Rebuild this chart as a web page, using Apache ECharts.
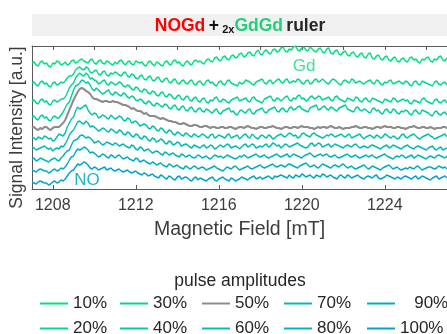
<!DOCTYPE html>
<html>
<head>
<meta charset="utf-8">
<script src="https://cdn.jsdelivr.net/npm/echarts@6/dist/echarts.min.js"></script>
<style>
  html, body { margin: 0; padding: 0; background: #ffffff; }
  #chart { width: 447px; height: 334px; }
</style>
</head>
<body>
<div id="chart"></div>
<script>
// Magnetic field sampling points [mT]
const field = [
  1207.0,1207.1,1207.2,1207.3,1207.4,1207.5,1207.6,1207.7,1207.8,1207.9,
  1208.0,1208.1,1208.2,1208.3,1208.4,1208.5,1208.6,1208.7,1208.8,1208.9,
  1209.0,1209.1,1209.2,1209.3,1209.4,1209.5,1209.6,1209.7,1209.8,1209.9,
  1210.0,1210.1,1210.2,1210.3,1210.4,1210.5,1210.6,1210.7,1210.8,1210.9,
  1211.0,1211.1,1211.2,1211.3,1211.4,1211.5,1211.6,1211.7,1211.8,1211.9,
  1212.0,1212.1,1212.2,1212.3,1212.4,1212.5,1212.6,1212.7,1212.8,1212.9,
  1213.0,1213.1,1213.2,1213.3,1213.4,1213.5,1213.6,1213.7,1213.8,1213.9,
  1214.0,1214.1,1214.2,1214.3,1214.4,1214.5,1214.6,1214.7,1214.8,1214.9,
  1215.0,1215.1,1215.2,1215.3,1215.4,1215.5,1215.6,1215.7,1215.8,1215.9,
  1216.0,1216.1,1216.2,1216.3,1216.4,1216.5,1216.6,1216.7,1216.8,1216.9,
  1217.0,1217.1,1217.2,1217.3,1217.4,1217.5,1217.6,1217.7,1217.8,1217.9,
  1218.0,1218.1,1218.2,1218.3,1218.4,1218.5,1218.6,1218.7,1218.8,1218.9,
  1219.0,1219.1,1219.2,1219.3,1219.4,1219.5,1219.6,1219.7,1219.8,1219.9,
  1220.0,1220.1,1220.2,1220.3,1220.4,1220.5,1220.6,1220.7,1220.8,1220.9,
  1221.0,1221.1,1221.2,1221.3,1221.4,1221.5,1221.6,1221.7,1221.8,1221.9,
  1222.0,1222.1,1222.2,1222.3,1222.4,1222.5,1222.6,1222.7,1222.8,1222.9,
  1223.0,1223.1,1223.2,1223.3,1223.4,1223.5,1223.6,1223.7,1223.8,1223.9,
  1224.0,1224.1,1224.2,1224.3,1224.4,1224.5,1224.6,1224.7,1224.8,1224.9,
  1225.0,1225.1,1225.2,1225.3,1225.4,1225.5,1225.6,1225.7,1225.8,1225.9,
  1226.0,1226.1,1226.2,1226.3,1226.4,1226.5,1226.6,1226.7,1226.8,1226.9,
  1227.0
];

// Echo-detected spectra, vertically offset, one per pulse amplitude
const amp10 = [
  126,127,124,123,127,128,125,126,123,122,126,125,128,127,124,125,127,124,125,128,
  129,126,127,129,130,128,127,126,129,130,126,125,128,129,126,125,128,127,125,124,
  127,125,128,129,126,124,127,128,125,124,128,127,126,127,124,123,127,128,125,123,
  127,126,124,123,127,128,125,124,128,129,126,127,124,123,127,128,125,124,128,129,
  127,128,126,125,129,130,128,127,131,132,129,128,132,133,130,129,133,134,131,132,
  135,136,132,133,136,137,134,133,137,139,135,134,138,139,136,135,139,140,137,138,
  141,142,138,137,140,139,142,143,139,138,141,142,139,138,142,140,138,137,140,141,
  137,136,140,141,136,135,138,139,135,134,137,138,134,133,136,137,133,132,135,136,
  132,131,135,136,131,130,133,134,130,129,132,133,129,128,131,132,128,127,130,131,
  128,127,131,132,129,130,127,126,130,129,131,132,128,127,130,129,132,133,129,128,
  131
];
const amp20 = [
  106,107,104,103,107,108,105,106,103,102,106,107,104,105,107,106,108,111,113,113,
  115,119,121,122,120,119,122,121,117,116,118,119,115,114,117,118,114,113,116,115,
  117,116,114,113,116,117,113,112,115,114,111,110,113,114,110,109,112,113,109,108,
  111,112,108,107,110,111,107,106,109,110,106,105,108,109,106,105,108,109,105,104,
  107,108,105,104,108,109,106,107,104,103,107,108,105,104,108,109,106,105,104,103,
  107,105,106,109,108,107,105,104,107,108,109,110,106,105,108,109,105,107,109,110,
  107,106,109,110,106,107,108,107,110,109,106,105,108,109,105,106,109,110,107,108,
  110,108,106,105,108,110,109,107,105,104,108,109,107,106,110,109,106,107,108,106,
  105,107,108,109,106,105,109,108,105,104,107,106,108,109,105,106,107,108,106,105,
  108,107,104,103,107,108,105,104,108,107,106,105,104,103,107,108,105,104,106,107,
  104
];
const amp30 = [
  88,89,86,85,89,90,87,88,85,84,88,89,87,88,90,90,92,96,101,104,
  106,111,114,116,114,113,116,114,110,111,109,108,105,106,108,109,105,104,107,106,
  104,105,107,106,103,102,104,103,100,99,102,101,98,97,100,99,96,95,98,97,
  94,93,96,97,93,92,95,94,91,90,93,94,90,89,92,93,89,88,91,92,
  88,87,90,91,87,86,89,88,91,92,88,87,90,89,87,86,89,90,91,92,
  88,89,90,91,88,87,91,92,89,88,87,86,90,91,92,93,89,88,91,90,
  88,90,92,93,89,88,91,90,93,94,90,91,88,89,92,93,90,91,93,92,
  89,90,91,92,89,88,92,93,90,89,88,87,91,90,89,88,92,91,88,87,
  90,91,88,87,91,90,89,88,87,86,90,89,88,87,91,90,87,88,89,90,
  88,89,86,85,89,88,87,86,90,91,88,87,86,85,89,90,87,86,88,89,
  86
];
const amp40 = [
  72,73,70,69,73,74,71,72,69,68,72,73,71,71,74,77,81,85,87,93,
  99,103,104,106,109,108,106,107,104,100,98,101,99,97,95,96,98,99,95,94,
  97,96,94,93,96,95,92,91,93,92,89,88,90,89,86,85,88,87,84,83,
  86,85,83,82,85,84,81,80,83,84,80,79,82,83,79,78,81,82,78,77,
  80,81,78,77,80,79,77,76,79,80,76,75,78,79,80,81,77,78,75,74,
  78,79,77,76,79,80,76,75,78,79,80,81,77,76,79,80,81,82,78,77,
  80,81,78,77,81,82,79,80,82,83,80,79,78,77,81,82,83,84,79,80,
  82,83,80,79,82,81,79,78,81,82,83,84,80,79,78,77,81,82,79,78,
  80,79,77,76,80,81,78,79,76,75,79,80,77,76,80,79,76,75,78,77,
  79,78,75,74,78,79,76,75,79,78,77,76,74,73,77,78,75,74,76,77,
  74
];
const amp50 = [
  61,62,60,59,61,60,62,62,60,59,61,62,62,62,64,66,69,74,79,84,
  89,93,97,100,101,100,98,97,95,92,90,90,89,88,87,88,88,87,87,88,
  87,87,86,85,84,84,83,82,80,81,79,78,78,77,75,76,74,73,73,73,
  72,71,70,71,70,69,68,68,67,67,66,65,65,66,65,64,63,63,64,64,
  63,62,62,63,63,62,61,62,62,61,61,62,62,61,61,62,62,61,60,61,
  62,62,61,62,63,62,61,61,60,61,62,62,61,61,62,62,63,62,61,61,
  60,61,62,62,61,61,62,62,61,62,63,62,62,62,61,61,60,61,62,61,
  62,62,61,62,63,62,61,61,62,61,60,61,61,61,62,62,63,62,61,61,
  62,62,61,61,60,61,62,62,61,62,63,62,62,62,61,61,62,62,61,61,
  60,61,62,62,63,62,61,61,62,62,61,61,62,61,60,61,61,61,62,62,
  61
];
const amp60 = [
  52,51,49,52,51,50,53,52,50,51,48,49,52,55,54,53,56,62,66,70,
  72,78,82,80,81,83,84,79,76,74,76,75,71,72,74,73,71,70,74,72,
  70,71,73,72,69,68,71,70,66,67,68,66,63,64,65,64,61,60,63,62,
  59,58,61,60,57,56,59,58,55,54,57,56,54,53,56,55,53,52,55,54,
  52,53,55,54,52,51,54,55,51,52,54,53,52,51,54,55,51,52,53,54,
  50,52,54,55,52,51,55,53,51,50,53,54,52,51,54,53,50,51,53,54,
  55,53,52,54,56,55,53,54,51,52,55,56,54,53,52,55,56,54,53,52,
  51,52,54,53,55,54,52,53,54,55,53,52,54,55,51,52,53,54,55,52,
  50,52,53,54,52,51,54,53,51,52,55,54,52,51,53,52,50,51,54,55,
  52,51,53,54,55,53,51,50,52,53,54,55,53,52,50,51,52,53,54,55,
  52
];
const amp70 = [
  42,41,39,40,41,42,43,41,40,41,38,40,41,40,43,42,45,49,54,57,
  59,63,67,68,66,65,68,66,62,63,62,60,58,59,61,60,58,57,60,59,
  57,56,59,58,55,54,57,56,53,52,55,54,51,50,53,52,49,48,51,50,
  47,48,50,49,46,45,48,47,44,45,47,46,43,44,45,44,42,41,44,43,
  42,41,43,44,41,42,44,43,40,41,43,44,42,43,45,44,41,42,43,42,
  40,42,44,45,42,43,45,44,41,42,43,42,44,45,42,43,46,45,43,44,
  41,43,45,44,42,43,44,45,46,44,43,42,41,42,45,46,43,44,46,45,
  42,43,44,45,42,43,45,44,43,42,41,43,44,43,42,44,45,43,41,42,
  43,42,41,43,44,43,42,41,40,42,43,44,41,42,44,43,42,41,40,42,
  43,44,42,41,40,42,43,42,41,40,39,41,42,43,40,39,41,42,39,40,
  41
];
const amp80 = [
  30,31,28,29,31,30,29,28,27,29,30,31,29,28,31,33,36,38,39,44,
  48,49,50,53,54,53,51,52,51,49,46,47,48,46,44,45,47,46,45,44,
  46,45,43,44,45,43,42,41,44,43,40,39,42,41,38,39,40,38,36,37,
  38,37,35,34,37,36,34,35,36,34,33,32,35,34,32,33,34,32,31,32,
  34,33,31,32,33,31,30,32,34,33,32,33,31,32,34,33,32,31,30,31,
  33,32,34,33,31,32,33,34,35,33,32,33,34,32,31,32,33,34,35,33,
  32,33,34,35,32,33,35,34,33,32,31,33,34,35,36,34,32,33,34,35,
  33,34,35,33,32,33,34,32,31,32,33,34,35,33,32,33,34,32,31,32,
  33,34,32,33,34,32,31,32,33,34,35,33,32,31,30,32,33,32,34,33,
  31,32,33,34,31,32,34,33,32,31,30,32,33,32,31,33,34,33,32,31,
  33
];
const amp90 = [
  19,18,17,19,20,19,18,18,16,17,19,20,18,19,21,20,22,25,29,32,
  33,37,40,39,40,42,41,39,36,37,36,34,32,33,35,34,32,31,34,33,
  31,33,34,32,30,31,32,30,29,28,31,30,27,28,29,27,26,25,27,26,
  24,25,26,24,23,22,25,24,22,23,24,22,21,20,23,22,20,21,23,22,
  20,21,22,21,19,20,21,22,23,21,20,19,18,20,22,21,20,22,23,21,
  19,20,21,22,23,21,20,21,22,23,24,22,21,22,23,24,25,23,22,23,
  24,23,22,24,25,24,23,22,21,23,24,25,26,24,22,23,24,22,21,23,
  25,24,23,22,21,23,24,23,22,24,25,23,21,22,23,21,20,21,22,23,
  24,22,20,21,23,22,21,20,19,21,22,23,24,22,20,21,22,20,19,20,
  21,20,22,21,20,22,23,21,19,20,21,22,22,21,20,21,23,22,21,22,
  20
];
const amp100 = [
  7,6,5,7,8,7,6,6,4,5,7,8,6,7,9,8,10,13,16,18,
  19,22,25,24,25,27,26,24,21,20,22,21,19,20,21,22,19,20,21,19,
  18,19,20,18,17,18,19,17,16,17,18,16,15,14,16,15,13,14,15,13,
  12,11,14,13,11,10,13,12,10,9,12,13,10,11,12,11,9,8,11,12,
  9,11,10,9,8,10,11,12,9,8,10,11,12,10,9,8,11,10,8,9,
  10,12,11,10,9,11,12,13,10,11,12,10,11,12,13,11,10,13,12,13,
  14,13,12,11,14,12,11,14,13,12,15,14,12,13,14,12,11,14,13,12,
  15,14,12,13,14,12,11,10,13,14,12,11,14,13,11,12,13,14,12,11,
  10,12,13,12,11,13,14,11,10,11,12,14,13,12,11,10,12,11,10,12,
  13,12,11,10,12,13,10,11,13,12,11,10,9,11,12,13,10,11,12,13,
  11
];

const seriesNames = ['10%','20%','30%','40%','50%','60%','70%','80%','90%','100%'];
const seriesValues = [amp10, amp20, amp30, amp40, amp50, amp60, amp70, amp80, amp90, amp100];
const seriesColors = ['#00e17f','#00db88','#00d592','#00ce9c','#8c8c8c',
                      '#00c3ab','#00bcb4','#00b5bc','#00adc3','#00a5c9'];

const bottomTicks = [1208, 1212, 1216, 1220, 1224];
const topTicks = [1208, 1210, 1212, 1214, 1216, 1218, 1220, 1222, 1224, 1226];

// legend grid: 5 columns x 2 rows, filled column by column
const legendLeft = [40, 40, 120, 120, 202, 202, 284, 284, 367, 367];
const legendTop = [295, 320, 295, 320, 295, 320, 295, 320, 295, 320];

const FONT = 'Liberation Sans, Arial, Helvetica, sans-serif';
const AXIS_COLOR = '#5a5a5a';
const TEXT_COLOR = '#3c3c3c';

const chart = echarts.init(document.getElementById('chart'), null, { renderer: 'canvas' });

const series = seriesNames.map((name, k) => ({
  name: name,
  type: 'line',
  xAxisIndex: 0,
  yAxisIndex: 0,
  data: field.map((f, i) => [f, seriesValues[k][i]]),
  showSymbol: false,
  symbol: 'none',
  clip: true,
  z: name === '50%' ? 3 : 2,
  lineStyle: { color: seriesColors[k], width: name === '50%' ? 2 : 1.4 },
  itemStyle: { color: seriesColors[k] },
  emphasis: { disabled: true }
}));

const legends = seriesNames.map((name, k) => ({
  data: [name],
  orient: 'horizontal',
  left: legendLeft[k],
  top: legendTop[k],
  padding: 0,
  itemWidth: 28,
  itemHeight: 2,
  icon: 'rect',
  selectedMode: false,
  formatter: n => (n === '90%' ? '\u2007 90%' : n),
  textStyle: { fontSize: 17, lineHeight: 17, color: '#262626', fontFamily: FONT }
}));

const option = {
  animation: false,
  backgroundColor: '#ffffff',
  textStyle: { fontFamily: FONT },
  grid: { left: 32, right: -2, top: 46, bottom: 145, containLabel: false },
  legend: legends,
  xAxis: [
    {
      type: 'value', min: 1207, max: 1227, position: 'bottom',
      axisLine: { show: true, lineStyle: { color: AXIS_COLOR, width: 1 } },
      axisTick: { show: true, inside: true, length: 4, customValues: bottomTicks,
                  lineStyle: { color: AXIS_COLOR, width: 1 } },
      axisLabel: { show: true, customValues: bottomTicks, fontSize: 16, color: TEXT_COLOR,
                   margin: 9, fontFamily: FONT, formatter: v => String(v) },
      splitLine: { show: false },
      name: 'Magnetic Field [mT]', nameLocation: 'middle', nameGap: 31,
      nameTextStyle: { fontSize: 19.5, color: TEXT_COLOR, fontFamily: FONT }
    },
    {
      type: 'value', min: 1207, max: 1227, position: 'top',
      axisLine: { show: true, lineStyle: { color: AXIS_COLOR, width: 1 } },
      axisTick: { show: true, inside: true, length: 4, customValues: topTicks,
                  lineStyle: { color: AXIS_COLOR, width: 1 } },
      axisLabel: { show: false },
      splitLine: { show: false }
    }
  ],
  yAxis: {
    type: 'value', min: 0, max: 143,
    axisLine: { show: true, lineStyle: { color: AXIS_COLOR, width: 1 } },
    axisTick: { show: false },
    axisLabel: { show: false },
    splitLine: { show: false }
  },
  graphic: [
    { type: 'rect', left: 32, top: 14, z: 0,
      shape: { width: 415, height: 22 }, style: { fill: '#f0f0f0' } },
    { type: 'text', x: 240, y: 25, z: 5,
      style: {
        text: '{r|NOGd} {k|+} {s|2x}{g|GdGd} {d|ruler}',
        align: 'center', verticalAlign: 'middle',
        rich: {
          r: { fontSize: 17.5, fontWeight: 'bold', fill: '#ff0000', fontFamily: FONT, verticalAlign: 'bottom', lineHeight: 20 },
          k: { fontSize: 17.5, fontWeight: 'bold', fill: '#111111', fontFamily: FONT, verticalAlign: 'bottom', lineHeight: 20 },
          s: { fontSize: 11, fontWeight: 'bold', fill: '#111111', fontFamily: FONT, verticalAlign: 'bottom', lineHeight: 20 },
          g: { fontSize: 17.5, fontWeight: 'bold', fill: '#22d07c', fontFamily: FONT, verticalAlign: 'bottom', lineHeight: 20 },
          d: { fontSize: 17.5, fontWeight: 'bold', fill: '#262626', fontFamily: FONT, verticalAlign: 'bottom', lineHeight: 20 }
        }
      } },
    { type: 'text', x: 17.5, y: 127.5, rotation: Math.PI / 2, z: 5,
      style: { text: 'Signal Intensity [a.u.]', fontSize: 17.5, fill: TEXT_COLOR, fontFamily: FONT,
               align: 'center', verticalAlign: 'middle' } },
    { type: 'text', x: 304, y: 66, z: 5,
      style: { text: 'Gd', fontSize: 17, fill: '#3fe094', fontFamily: FONT,
               align: 'center', verticalAlign: 'middle' } },
    { type: 'text', x: 87, y: 180, z: 5,
      style: { text: 'NO', fontSize: 17, fill: '#1fb6c8', fontFamily: FONT,
               align: 'center', verticalAlign: 'middle' } },
    { type: 'text', x: 240, y: 281, z: 5,
      style: { text: 'pulse amplitudes', fontSize: 17.5, fill: '#262626', fontFamily: FONT,
               align: 'center', verticalAlign: 'middle' } }
  ],
  series: series
};

chart.setOption(option);
</script>
</body>
</html>
